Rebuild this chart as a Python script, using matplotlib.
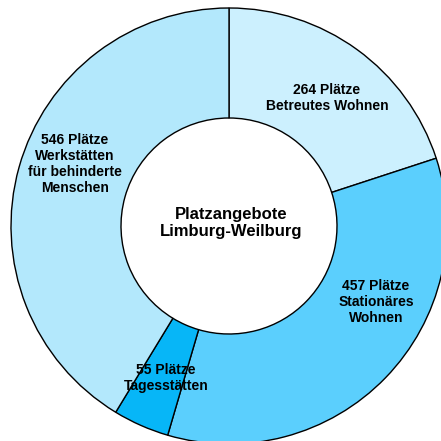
import matplotlib
matplotlib.use('Agg')
import matplotlib.pyplot as plt

# Daten
values = [264, 457, 55, 546]
labels = ["264 Plätze\nBetreutes Wohnen",
          "457 Plätze\nStationäres\nWohnen",
          "55 Plätze\nTagesstätten",
          "546 Plätze\nWerkstätten\nfür behinderte\nMenschen"]
colors = ['#ccf0fe', '#5bcffd', '#07b6f7', '#b3e8fc']
center_title = "Platzangebote\nLimburg-Weilburg"

plt.rcParams['font.family'] = ['Liberation Sans', 'DejaVu Sans']

fig = plt.figure(figsize=(4.41, 4.41), dpi=100)
ax = fig.add_axes([0, 0, 1, 1])

R = 218
W = 110
wedges, _ = ax.pie(values, radius=R, startangle=90, counterclock=False,
                   colors=colors,
                   wedgeprops=dict(width=W, edgecolor='black', linewidth=1.0))

# Beschriftungen (Positionen in Pixeln relativ zur Mitte)
label_pos = [(98, 128), (147, -76), (-63, -152), (-154, 62)]
for txt, (x, y) in zip(labels, label_pos):
    ax.text(x, y, txt, ha='center', va='center', fontsize=10,
            fontweight='bold', linespacing=1.2)

ax.text(2, 3, center_title, ha='center', va='center', fontsize=12,
        fontweight='bold', linespacing=1.1)

ax.set_xlim(-229, 212)
ax.set_ylim(-215, 226)
ax.set_aspect('equal')
ax.axis('off')

plt.savefig('out.png', dpi=100)
plt.close()
